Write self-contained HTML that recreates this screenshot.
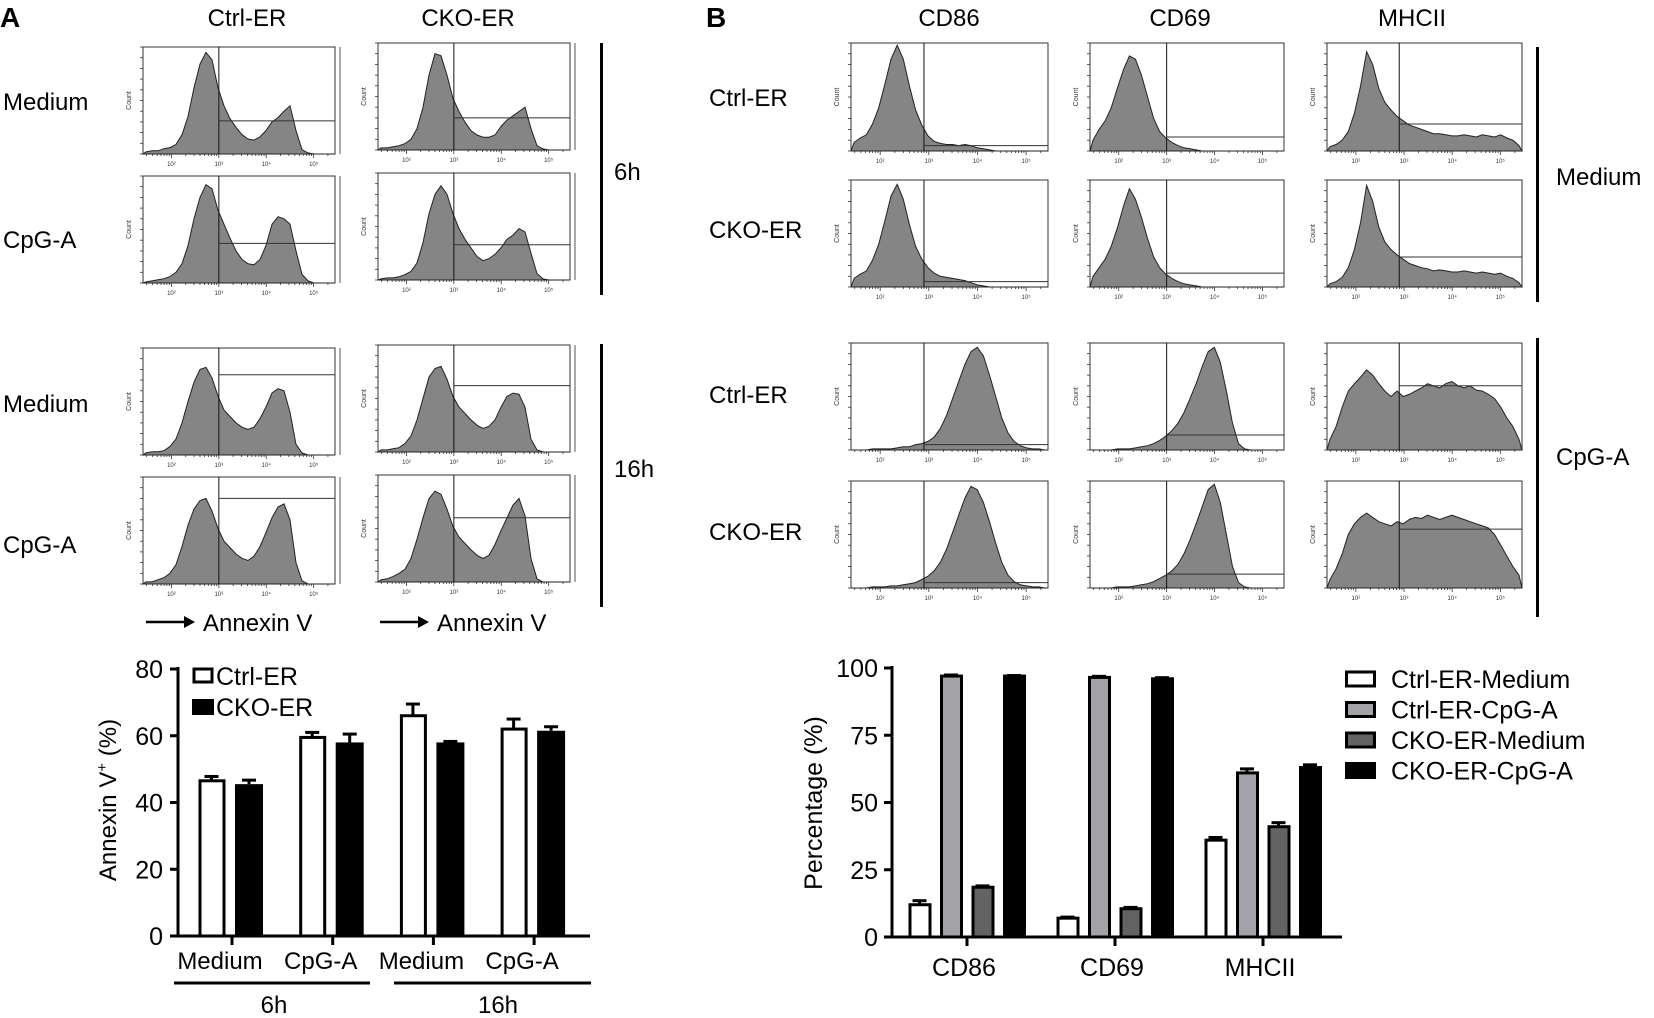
<!DOCTYPE html>
<html><head><meta charset="utf-8"><style>
html,body{margin:0;padding:0;background:#fff;}
svg{display:block;font-family:"Liberation Sans",Arial,sans-serif;}
</style></head><body>
<svg id="fig" width="1654" height="1018" viewBox="0 0 1654 1018" xmlns="http://www.w3.org/2000/svg">
<g id="static" fill="#000" font-size="24">
<text x="0" y="27" font-size="28" font-weight="bold">A</text>
<text x="706" y="27" font-size="28" font-weight="bold">B</text>
<text x="247" y="26" text-anchor="middle">Ctrl-ER</text>
<text x="468" y="26" text-anchor="middle">CKO-ER</text>
<text x="949" y="26" text-anchor="middle">CD86</text>
<text x="1180" y="26" text-anchor="middle">CD69</text>
<text x="1412" y="26" text-anchor="middle">MHCII</text>
<text x="3" y="110">Medium</text>
<text x="3" y="248">CpG-A</text>
<text x="3" y="412">Medium</text>
<text x="3" y="553">CpG-A</text>
<rect x="600" y="43" width="3" height="252"/>
<rect x="600" y="344" width="3" height="263"/>
<text x="614" y="180">6h</text>
<text x="614" y="477">16h</text>
<text x="709" y="106">Ctrl-ER</text>
<text x="709" y="238">CKO-ER</text>
<text x="709" y="403">Ctrl-ER</text>
<text x="709" y="540">CKO-ER</text>
<rect x="1536" y="47" width="3" height="255"/>
<rect x="1536" y="338" width="3" height="279"/>
<text x="1556" y="185">Medium</text>
<text x="1556" y="465">CpG-A</text>
<g>
<line x1="146" y1="622" x2="186" y2="622" stroke="#000" stroke-width="2.5"/><polygon points="184,616 195,622 184,628"/>
<text x="203" y="631">Annexin V</text></g>
<g>
<line x1="380" y1="622" x2="420" y2="622" stroke="#000" stroke-width="2.5"/><polygon points="418,616 429,622 418,628"/>
<text x="437" y="631">Annexin V</text></g>
</g>
<g id="hists"></g>
<g id="chartA"></g>
<g id="chartB"></g>
</svg>
<script>
// ---------- Histogram data (percent of panel height, 32 log bins from 10^1.4 to 10^5.45) ----------
const histA1 = [2,3,3,5,6,9,18,35,62,84,95,88,62,45,33,25,18,14,13,16,22,30,34,40,45,22,4,1,0,0,0,0];
const histA2 = [1,2,3,4,6,10,18,35,60,80,92,88,68,55,42,30,22,18,17,22,35,55,62,60,55,30,8,2,0,0,0,0];
const histA3 = [2,2,3,4,6,10,20,40,70,90,88,70,48,36,26,18,14,12,12,14,22,28,32,36,40,20,4,1,0,0,0,0];
const histA4 = [1,2,2,3,5,8,16,35,62,80,88,80,62,48,38,30,22,18,20,24,30,38,42,48,45,25,6,1,0,0,0,0];
const histA5 = [2,3,3,4,8,15,30,50,68,80,82,72,55,42,36,30,26,24,26,34,45,58,62,60,40,10,2,0,0,0,0,0];
const histA6 = [2,2,4,6,10,18,35,55,70,78,80,68,52,40,34,28,24,22,26,35,48,62,72,75,60,20,3,0,0,0,0,0];
const histA7 = [2,2,3,4,8,15,30,50,70,78,80,68,52,42,36,30,25,22,24,30,42,52,55,54,42,12,2,0,0,0,0,0];
const histA8 = [2,3,5,8,12,22,40,60,78,85,82,68,52,42,36,30,25,22,25,35,48,60,72,78,62,22,3,0,0,0,0,0];
const histB1 = [8,12,15,25,40,62,85,98,85,60,38,24,14,9,7,6,6,5,6,5,3,2,1,0,0,0,0,0,0,0,0,0];
const histB2 = [10,20,28,40,58,75,88,85,70,50,30,18,12,8,5,3,2,1,0,0,0,0,0,0,0,0,0,0,0,0,0,0];
const histB3 = [4,6,10,18,35,60,92,80,58,45,38,32,28,24,22,20,18,16,16,15,14,14,15,14,13,15,14,13,15,12,10,5];
const histB4 = [8,12,15,25,40,62,85,96,82,58,38,26,18,13,10,9,8,7,6,4,2,1,0,0,0,0,0,0,0,0,0,0];
const histB5 = [10,18,26,38,55,75,92,82,65,45,28,18,12,8,5,3,2,1,0,0,0,0,0,0,0,0,0,0,0,0,0,0];
const histB6 = [3,5,9,18,35,60,95,80,56,42,35,30,26,22,20,18,17,15,16,15,14,14,15,14,13,14,13,12,13,10,8,4];
const histB7 = [0,0,0,1,1,1,1,2,3,3,5,6,8,12,20,32,48,64,80,92,96,88,70,50,30,16,8,4,2,1,1,0];
const histB8 = [0,0,0,0,1,1,1,2,3,4,6,9,13,18,25,35,48,62,78,92,96,82,55,25,6,1,0,0,0,0,0,0];
const histB9 = [10,22,40,55,62,68,75,70,62,55,50,55,50,52,55,58,62,60,58,62,64,60,58,60,56,55,52,48,40,30,22,10];
const histB10 = [0,0,0,1,1,1,2,2,3,4,5,8,11,16,24,36,52,68,84,95,92,80,62,42,24,12,6,3,2,1,1,0];
const histB11 = [0,0,0,0,1,1,1,2,3,4,6,9,12,16,22,32,45,60,76,92,97,80,50,20,5,1,0,0,0,0,0,0];
const histB12 = [8,18,32,50,60,66,70,66,62,60,58,62,60,64,66,65,68,66,64,66,68,66,64,62,60,58,56,50,40,30,20,12];
const gateLevels = [31,37,30,33,75,80,62,60, 5,13,25,5,13,28,5,14,60,5,13,55];
const gateLogs = [3,3,3,3,3,3,3,3, 2.9,3,2.9,2.9,3,2.9,2.9,3,2.9,2.9,3,2.9];

// ---------- Bar chart A data ----------
const catsA = ['Medium','CpG-A','Medium','CpG-A'];
const ctrlA = [46.5,59.5,66,62];
const ctrlErrA = [1.3,1.5,3.5,3];
const ckoA = [45.5,58,58,61.5];
const ckoErrA = [1.2,2.5,0.3,1.2];
const ticksA = [0,20,40,60,80];

// ---------- Bar chart B data ----------
const catsB = ['CD86','CD69','MHCII'];
const ctrlMedB = [12,7,36];
const ctrlMedErrB = [1.5,0.4,1];
const ctrlCpgB = [97,96.5,61];
const ctrlCpgErrB = [0.4,0.4,1.5];
const ckoMedB = [18.5,10.5,41];
const ckoMedErrB = [0.5,0.5,1.5];
const ckoCpgB = [97,96,63];
const ckoCpgErrB = [0.2,0.4,1];
const ticksB = [0,25,50,75,100];
const seriesNamesB = ['Ctrl-ER-Medium','Ctrl-ER-CpG-A','CKO-ER-Medium','CKO-ER-CpG-A'];

const NS='http://www.w3.org/2000/svg';
function mk(tag,attrs,parent){const e=document.createElementNS(NS,tag);for(const k in attrs)e.setAttribute(k,attrs[k]);if(parent)parent.appendChild(e);return e;}

// ---------- Histograms ----------
const hg=document.getElementById('hists');
const panels=[
 [histA1,143,335,47,154,'hist-ctrl-medium-6h',true],
 [histA2,143,335,176,283,'hist-ctrl-cpga-6h',true],
 [histA3,378,570,43,150,'hist-cko-medium-6h',true],
 [histA4,378,570,173,280,'hist-cko-cpga-6h',true],
 [histA5,143,335,348,455,'hist-ctrl-medium-16h',true],
 [histA6,143,335,477,584,'hist-ctrl-cpga-16h',true],
 [histA7,378,570,345,452,'hist-cko-medium-16h',true],
 [histA8,378,570,475,582,'hist-cko-cpga-16h',true],
 [histB1,851,1048,43,151,'hist-cd86-ctrl-medium',false],
 [histB2,1090,1284,43,151,'hist-cd69-ctrl-medium',false],
 [histB3,1327,1522,43,151,'hist-mhcii-ctrl-medium',false],
 [histB4,851,1048,180,287,'hist-cd86-cko-medium',false],
 [histB5,1090,1284,180,287,'hist-cd69-cko-medium',false],
 [histB6,1327,1522,180,287,'hist-mhcii-cko-medium',false],
 [histB7,851,1048,343,450,'hist-cd86-ctrl-cpga',false],
 [histB8,1090,1284,343,450,'hist-cd69-ctrl-cpga',false],
 [histB9,1327,1522,343,450,'hist-mhcii-ctrl-cpga',false],
 [histB10,851,1048,481,588,'hist-cd86-cko-cpga',false],
 [histB11,1090,1284,481,588,'hist-cd69-cko-cpga',false],
 [histB12,1327,1522,481,588,'hist-mhcii-cko-cpga',false]
];
const LMIN=1.4,LMAX=5.45,NB=32;
panels.forEach((p,i)=>{
 const [data,x0,x1,y0,y1,name,dbl]=p;
 const g=mk('g',{},hg);
 
 
 const xs=l=>x0+(l-LMIN)/(LMAX-LMIN)*(x1-x0);
 const ys=v=>y1-v/100*(y1-y0);
 mk('rect',{x:x0,y:y0,width:x1-x0,height:y1-y0,fill:'#fff',stroke:'#333','stroke-width':1},g);
 if(dbl) mk('line',{x1:x1+5,y1:y0,x2:x1+5,y2:y1,stroke:'#555','stroke-width':1},g);
 let d='M'+x0+','+y1;
 data.forEach((v,j)=>{const l=LMIN+(j+0.5)*(LMAX-LMIN)/NB;d+=' L'+xs(l).toFixed(1)+','+ys(v).toFixed(1);});
 d+=' L'+x1+','+y1+' Z';
 mk('path',{d:d,fill:'#858585',stroke:'#222','stroke-width':1},g);
 const gx=xs(gateLogs[i]);
 mk('line',{x1:gx,y1:y0,x2:gx,y2:y1,stroke:'#111','stroke-width':1},g);
 const gy=ys(gateLevels[i]);
 mk('line',{x1:gx,y1:gy,x2:x1,y2:gy,stroke:'#333','stroke-width':1},g);
 // x ticks
 for(let dcd=1;dcd<=5;dcd++){for(let m=1;m<10;m++){const l=dcd+Math.log10(m);if(l<LMIN||l>LMAX)continue;const tx=xs(l);mk('line',{x1:tx,y1:y1,x2:tx,y2:y1+(m===1?4:2),stroke:'#333','stroke-width':0.8},g);}
  if(dcd>=2){const t=mk('text',{x:xs(dcd),y:y1+12,'font-size':6,'text-anchor':'middle',fill:'#333'},g);t.textContent='10'+['','','²','³','⁴','⁵'][dcd];}}
 // y ticks
 for(let k=0;k<=10;k++){const ty=y1-k*(y1-y0)/10;mk('line',{x1:x0-3,y1:ty,x2:x0,y2:ty,stroke:'#333','stroke-width':0.8},g);}
 const ct=mk('text',{x:0,y:0,'font-size':7,'text-anchor':'middle',fill:'#333',transform:'translate('+(x0-12)+','+((y0+y1)/2)+') rotate(-90)'},g);ct.textContent='Count';
});

// ---------- Chart A ----------
const cA=document.getElementById('chartA');
const yA=v=>936-v*(936-669)/80;
const xA=i=>232+i*100.7;
mk('line',{x1:178,y1:667,x2:178,y2:937,stroke:'#000','stroke-width':3},cA);
mk('line',{x1:174,y1:936,x2:590,y2:936,stroke:'#000','stroke-width':3},cA);
ticksA.forEach(t=>{
 mk('line',{x1:170,y1:yA(t),x2:178,y2:yA(t),stroke:'#000','stroke-width':3},cA);
 const tx=mk('text',{x:163,y:yA(t)+9,'font-size':25,'text-anchor':'end'},cA);
 
 
 tx.textContent=t;
});
const ttlA=mk('text',{x:0,y:0,'font-size':24,'text-anchor':'middle',transform:'translate(116,800) rotate(-90)'},cA);


ttlA.innerHTML='Annexin V<tspan font-size="15" dy="-9">+</tspan><tspan dy="9"> (%)</tspan>';
function errBar(g,x,top,len){mk('line',{x1:x,y1:top,x2:x,y2:top-len,stroke:'#000','stroke-width':3},g);mk('line',{x1:x-7,y1:top-len,x2:x+7,y2:top-len,stroke:'#000','stroke-width':3},g);}
catsA.forEach((c,i)=>{
 const cx=xA(i);
 mk('line',{x1:cx,y1:936,x2:cx,y2:945,stroke:'#000','stroke-width':3},cA);
 errBar(cA,cx-20.5,yA(ctrlA[i]),yA(0)-yA(ctrlErrA[i]));
 const b1=mk('rect',{x:cx-32,y:yA(ctrlA[i]),width:24,height:yA(0)-yA(ctrlA[i]),fill:'#fff',stroke:'#000','stroke-width':3},cA);
 
 
 errBar(cA,cx+17,yA(ckoA[i]),yA(0)-yA(ckoErrA[i]));
 const b2=mk('rect',{x:cx+3,y:yA(ckoA[i]),width:28,height:yA(0)-yA(ckoA[i]),fill:'#000'},cA);
 
 
 const lb=mk('text',{x:cx-12,y:969,'font-size':24,'text-anchor':'middle'},cA);
 
 
 lb.textContent=c;
});
mk('line',{x1:174,y1:983,x2:370,y2:983,stroke:'#000','stroke-width':3},cA);
mk('line',{x1:394,y1:983,x2:591,y2:983,stroke:'#000','stroke-width':3},cA);
const g6=mk('text',{x:274,y:1013,'font-size':24,'text-anchor':'middle'},cA);g6.textContent='6h';


const g16=mk('text',{x:498,y:1013,'font-size':24,'text-anchor':'middle'},cA);g16.textContent='16h';


const lgA=mk('g',{},cA);


mk('rect',{x:194,y:669,width:18,height:13,fill:'#fff',stroke:'#000','stroke-width':3},lgA);
mk('rect',{x:192,y:699,width:22,height:16,fill:'#000'},lgA);
const la1=mk('text',{x:216,y:685,'font-size':25},lgA);la1.textContent='Ctrl-ER';
const la2=mk('text',{x:216,y:716,'font-size':25},lgA);la2.textContent='CKO-ER';

// ---------- Chart B ----------
const cB=document.getElementById('chartB');
const yB=v=>937-v*(937-668)/100;
const xB=i=>967+i*148;
mk('line',{x1:892,y1:666,x2:892,y2:938,stroke:'#000','stroke-width':3},cB);
mk('line',{x1:890,y1:937,x2:1342,y2:937,stroke:'#000','stroke-width':3},cB);
ticksB.forEach(t=>{
 mk('line',{x1:884,y1:yB(t),x2:892,y2:yB(t),stroke:'#000','stroke-width':3},cB);
 const tx=mk('text',{x:878,y:yB(t)+9,'font-size':25,'text-anchor':'end'},cB);
 
 
 tx.textContent=t;
});
const ttlB=mk('text',{x:0,y:0,'font-size':25,'text-anchor':'middle',transform:'translate(822,803) rotate(-90)'},cB);


ttlB.textContent='Percentage (%)';
const sVals=[ctrlMedB,ctrlCpgB,ckoMedB,ckoCpgB];
const sErrs=[ctrlMedErrB,ctrlCpgErrB,ckoMedErrB,ckoCpgErrB];
const sFill=['#fff','#a3a3a7','#636363','#000'];
const sOff=[-58.5,-27,4.5,36];
catsB.forEach((c,i)=>{
 const cx=xB(i);
 mk('line',{x1:cx,y1:937,x2:cx,y2:946,stroke:'#000','stroke-width':3},cB);
 sVals.forEach((arr,s)=>{
  const bx=cx+sOff[s];
  errBar(cB,bx+11,yB(arr[i]),yB(0)-yB(sErrs[s][i]));
  const b=mk('rect',{x:bx+1.5,y:yB(arr[i]),width:20,height:yB(0)-yB(arr[i]),fill:sFill[s],stroke:'#000','stroke-width':3},cB);
  
  
 });
 const lb=mk('text',{x:cx-3,y:976,'font-size':25,'text-anchor':'middle'},cB);
 
 
 lb.textContent=c;
});
seriesNamesB.forEach((n,s)=>{
 const ly=679+s*30.5;
 const lg=mk('g',{},cB);
 
 
 mk('rect',{x:1346.5,y:ly-7,width:28,height:14,fill:sFill[s],stroke:'#000','stroke-width':3},lg);
 const t=mk('text',{x:1391,y:ly+9,'font-size':25},lg);t.textContent=n;
});
</script>
</body></html>
